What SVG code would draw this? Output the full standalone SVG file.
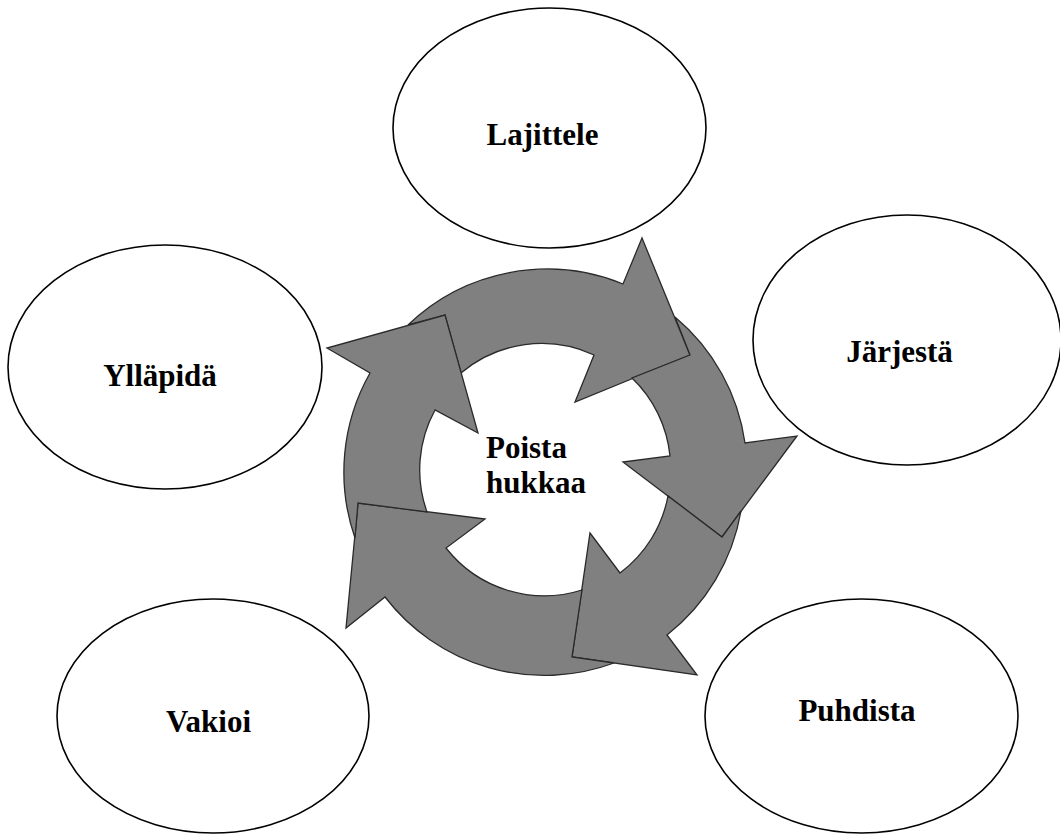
<svg xmlns="http://www.w3.org/2000/svg" width="1060" height="834" viewBox="0 0 1060 834">
  <style>
    .node ellipse { fill: #ffffff; stroke: #000000; stroke-width: 1.6; }
    .label { font-family: "Liberation Serif", "Times New Roman", serif; font-weight: bold; font-size: 31px; fill: #000000; }
    .arrow { fill: #808080; stroke: #2a2a2a; stroke-width: 1.3; stroke-linejoin: miter; }
  </style>
  <rect width="1060" height="834" fill="#ffffff"/>

  <!-- circular cycle of five curved arrows, clockwise -->
  <g id="cycle">
    <path class="arrow" d="M408,325 A201,201 0 0 1 623,284 L642,238 L690,355 L575,402 L594,355 A125,125 0 0 0 461,373 L445,315 Z"/>
    <path class="arrow" d="M675,317 A201,201 0 0 1 745,443 L797,436 L722,537 L623,462 L670,456 A125,125 0 0 0 632,378 L690,355 Z"/>
    <path class="arrow" d="M741,511 A201,201 0 0 1 667,635 L697,675 L572,657 L590,533 L620,573 A125,125 0 0 0 668,496 L722,537 Z"/>
    <path class="arrow" d="M614,663 A201,201 0 0 1 385,597 L346,628 L358,503 L485,519 L446,548 A125,125 0 0 0 582,590 L572,657 Z"/>
    <path class="arrow" d="M355,538 A201,201 0 0 1 370,373 L327,348 L445,315 L478,433 L435,410 A125,125 0 0 0 427,512 L358,503 Z"/>
  </g>

  <g id="center-label">
    <text class="label" x="486" y="458">Poista</text>
    <text class="label" x="486" y="493">hukkaa</text>
  </g>

  <g id="lajittele" class="node">
    <ellipse cx="549.5" cy="128" rx="156.5" ry="120"/>
    <text class="label" x="542.5" y="145" text-anchor="middle">Lajittele</text>
  </g>

  <g id="jarjesta" class="node">
    <ellipse cx="907" cy="340" rx="154" ry="125"/>
    <text class="label" x="899.5" y="362" text-anchor="middle">Järjestä</text>
  </g>

  <g id="puhdista" class="node">
    <ellipse cx="861.5" cy="716" rx="156.5" ry="117"/>
    <text class="label" x="857" y="721" text-anchor="middle">Puhdista</text>
  </g>

  <g id="vakioi" class="node">
    <ellipse cx="213" cy="716" rx="156" ry="117"/>
    <text class="label" x="208.5" y="732" text-anchor="middle">Vakioi</text>
  </g>

  <g id="yllapida" class="node">
    <ellipse cx="165" cy="367" rx="157" ry="122"/>
    <text class="label" x="160" y="386" text-anchor="middle">Ylläpidä</text>
  </g>
</svg>
